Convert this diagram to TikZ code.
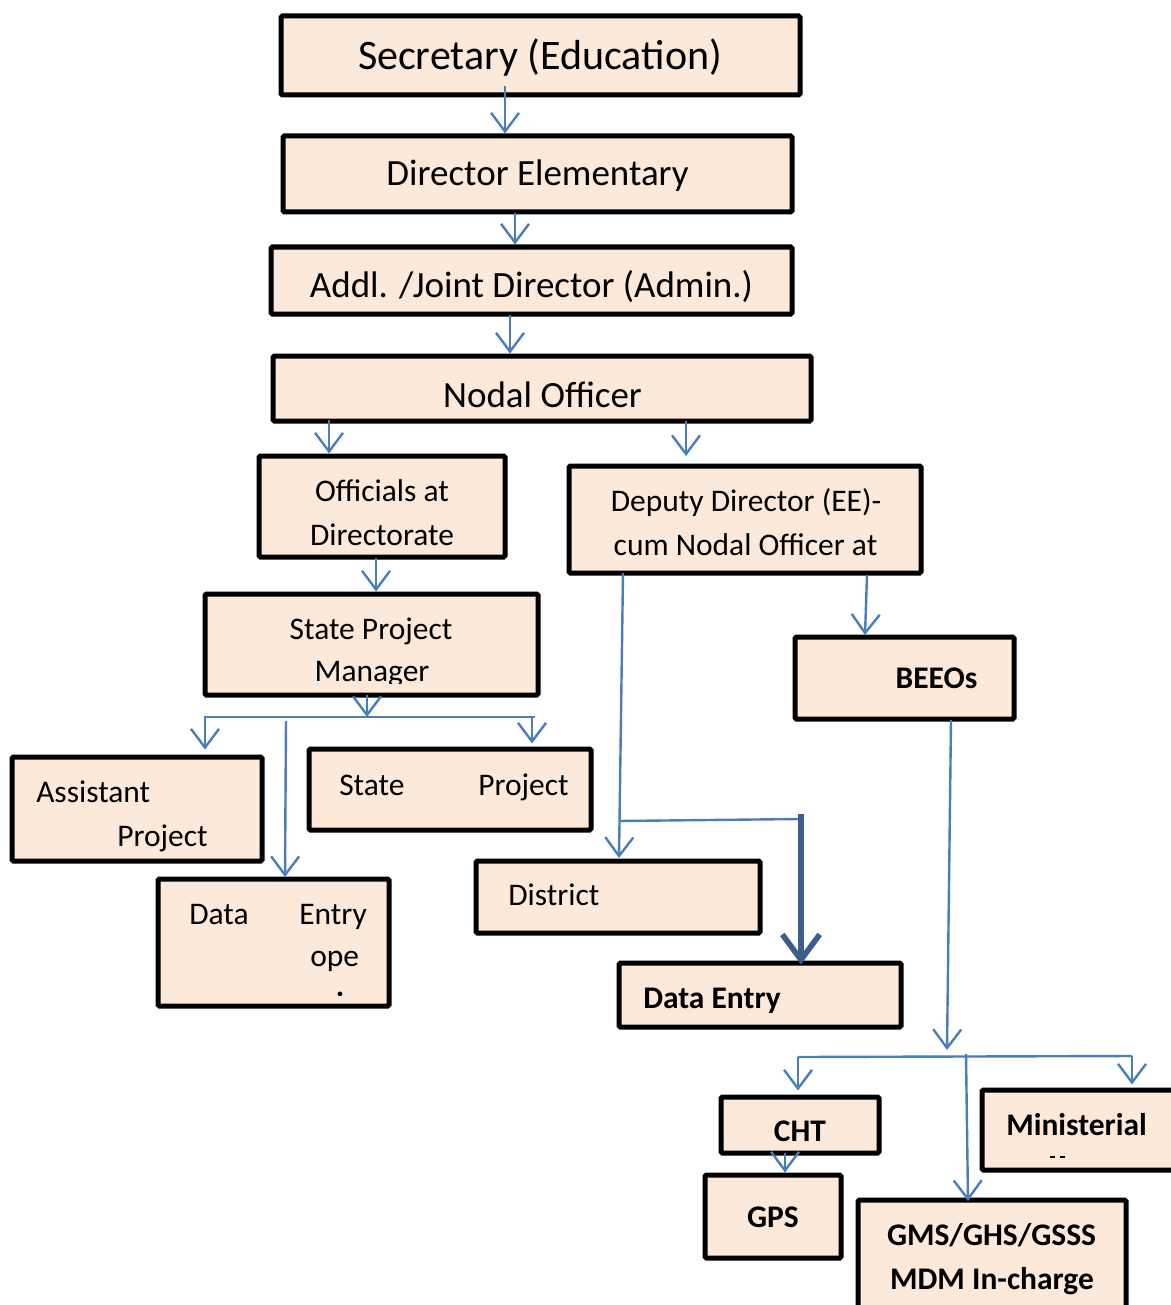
\documentclass[tikz,border=0pt]{standalone}
\usepackage{fontspec}
\setmainfont{Carlito}
\usetikzlibrary{arrows.meta,fit}
\definecolor{boxfill}{HTML}{FDE9D9}
\definecolor{arrblue}{HTML}{4A7EBB}
\definecolor{thickblue}{HTML}{3B5E8C}
\tikzset{
  box/.style={draw=black, line width=3.75pt, fill=boxfill, inner sep=0pt, rounded corners=1pt},
  txt/.style={inner sep=0pt, anchor=base},
  txtl/.style={inner sep=0pt, anchor=base west},
  fA/.style={font=\fontsize{31.5pt}{38pt}\selectfont},
  fB/.style={font=\fontsize{27.75pt}{33pt}\selectfont},
  fC/.style={font=\fontsize{23.6pt}{28pt}\selectfont},
  fCb/.style={font=\fontsize{23.6pt}{28pt}\selectfont\bfseries},
  arr/.style={draw=arrblue, line width=1.8pt, -{Straight Barb[length=14pt,width=21pt]}},
  conn/.style={draw=arrblue, line width=1.8pt},
  thickarr/.style={draw=thickblue, line width=4.2pt, -{Straight Barb[length=19pt,width=28pt]}}
}
\begin{document}
\begin{tikzpicture}[x=0.75pt,y=-0.75pt]
\useasboundingbox (0,0) rectangle (1170,1305);
% boxes
\node[box, fit={(281,16) (800,95)}] (sec) {};
\node[box, fit={(283,136) (792,212)}] (dir) {};
\node[box, fit={(271,247) (792,314)}] (addl) {};
\node[box, fit={(273,356) (811,421)}] (nodal) {};
\node[box, fit={(259,456) (505,557)}] (offi) {};
\node[box, fit={(569,466) (921,573)}] (dep) {};
\node[box, fit={(205,594) (538,695)}] (spm) {};
\node[box, fit={(795,637) (1014,719)}] (beeo) {};
\node[box, fit={(12,757) (262,861)}] (asst) {};
\node[box, fit={(309,749) (591,830)}] (spc) {};
\node[box, fit={(158,879) (389,1006)}] (deo) {};
\node[box, fit={(476,861) (760,933)}] (dist) {};
\node[box, fit={(619,963) (901,1027)}] (de) {};
\node[box, fit={(721,1097) (879,1153)}] (cht) {};
\node[box, fit={(705,1175) (841,1258)}] (gps) {};
\node[box, fit={(982,1090) (1185,1170)}] (min) {};
\node[box, fit={(858,1200) (1126,1320)}] (gms) {};
% texts
\node[txt,fA] (tsec) at (540,70) {Secretary (Education)};
\node[txt,fB] (tdir) at (537.5,186) {Director Elementary};
\node[txt,fB] (taddl) at (531.5,297) {Addl. /Joint Director (Admin.)};
\node[txt,fB] (tnodal) at (542.5,407) {Nodal Officer};
\node[txt,fC] (toffi1) at (382,501) {Officials at};
\node[txt,fC] (toffi2) at (382,545) {Directorate};
\node[txt,fC] (tdep1) at (746,511) {Deputy Director (EE)-};
\node[txt,fC] (tdep2) at (745.5,555) {cum Nodal Officer at};
\node[txt,fC] (tspm1) at (371,639) {State Project};
\begin{scope}
\clip (205,594) rectangle (538,683);
\node[txt,fC] (tspm2) at (372,681) {Manager};
\end{scope}
\node[txt,fCb] (tbeeo) at (936.5,688) {BEEOs};
\node[txtl,fC] (tasst1) at (36,802) {Assistant};
\node[txtl,fC] (tasst2) at (117,846) {Project};
\node[txtl,fC] (tspc1) at (339,795) {State};
\node[txtl,fC] (tspc2) at (478,795) {Project};
\node[txtl,fC] (tdeo1) at (189,924) {Data};
\node[txtl,fC] (tdeo2) at (299,924) {Entry};
\node[txtl,fC] (tdeo3) at (310,966) {ope};
\node[txt,fCb] (tdeo4) at (340,996) {.};
\node[txtl,fC] (tdist) at (508,905) {District};
\node[txtl,fCb] (tde) at (643,1008) {Data Entry};
\node[txt,fCb] (tcht) at (800,1141) {CHT};
\node[txt,fCb] (tgps) at (773,1227) {GPS};
\node[txtl,fCb] (tmin) at (1006,1135) {Ministerial};
\node[txt,fCb] (tgms1) at (991.5,1245) {GMS/GHS/GSSS};
\node[txt,fCb] (tgms2) at (992,1289) {MDM In-charge};
% small fragments
\draw[black, line width=1pt] (1050,1157) -- (1055,1157) (1060,1157) -- (1065,1157);
% connector coordinates
\coordinate (c1) at (505,86);
\coordinate (c2) at (515,213);
\coordinate (c3) at (510,315);
\coordinate (c4) at (329,420);
\coordinate (c5) at (686,421);
\coordinate (c5e) at (686,456);
\coordinate (c6) at (376,558);
\coordinate (c7) at (367,695);
\coordinate (busL) at (204,717);
\coordinate (busR) at (535,717);
\coordinate (b1) at (205,717);
\coordinate (b2) at (532,717);
\coordinate (c10) at (286,721);
\coordinate (c11) at (623,573);
\coordinate (c11m) at (619,821);
\coordinate (c12) at (800,819);
\coordinate (c13) at (801,814);
\coordinate (c14) at (867,575);
\coordinate (c15) at (951,720);
\coordinate (c15e) at (947,1050);
\coordinate (bus2L) at (798,1057);
\coordinate (bus2R) at (1132,1056);
\coordinate (c18) at (966,1054);
\coordinate (c19) at (785,1153);
% connectors
\draw[arr] (c1) -- (c1 |- dir.north);
\draw[arr] (c2) -- (c2 |- addl.north);
\draw[arr] (c3) -- (c3 |- nodal.north);
\draw[arr] (c4) -- (c4 |- offi.north);
\draw[arr] (c5) -- (c5e);
\draw[arr] (c6) -- (c6 |- spm.north);
\draw[conn] (busL) -- (busR);
\draw[arr] (c7) -- (c7 |- busL);
\draw[arr] (b1) -- ([yshift=3.75pt]b1 |- asst.north);
\draw[arr] (b2) -- ([yshift=2.25pt]b2 |- spc.north);
\draw[arr] (c10) -- (285,877);
\draw[arr] (c11) -- (619,858);
\draw[conn] (c11m) -- (c12);
\draw[thickarr] (c13) -- ([yshift=-3pt]c13 |- de.north);
\draw[arr] (c14) -- (865,635);
\draw[arr] (c15) -- (c15e);
\draw[conn] (bus2L) -- (bus2R);
\draw[arr] (bus2L) -- ([yshift=3pt]bus2L |- cht.north);
\draw[arr] (bus2R) -- ([yshift=2.25pt]bus2R |- min.north);
\draw[arr] (c18) -- (968,1201);
\draw[arr] (c19) -- (c19 |- gps.north);
\end{tikzpicture}
\end{document}
